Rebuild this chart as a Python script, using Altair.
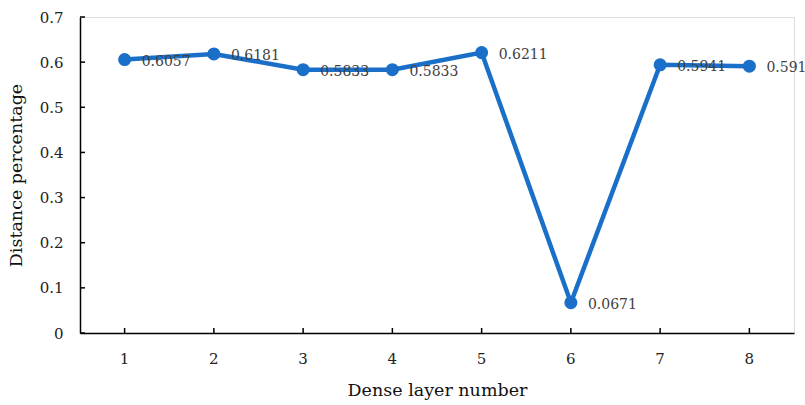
import altair as alt
import pandas as pd

layers = [1, 2, 3, 4, 5, 6, 7, 8]
values = [0.6057, 0.6181, 0.5833, 0.5833, 0.6211, 0.0671, 0.5941, 0.591]
labels = ["0.6057", "0.6181", "0.5833", "0.5833", "0.6211", "0.0671", "0.5941", "0.591"]
y_ticks = [0, 0.1, 0.2, 0.3, 0.4, 0.5, 0.6, 0.7]

df = pd.DataFrame({"layer": layers, "value": values, "label": labels})
ticks_df = pd.DataFrame({"v": y_ticks})

W, H = 714, 316
FONT = "DejaVu Serif"
BLUE = "#1a6fc8"

xscale = alt.Scale(domain=layers, paddingInner=0, paddingOuter=0)
yscale = alt.Scale(domain=[0, 0.7], nice=False, zero=True)

x_enc = alt.X("layer:O", scale=xscale,
              axis=alt.Axis(title="Dense layer number", labelAngle=0, ticks=False,
                            labelPadding=18, titlePadding=15,
                            domainColor="#000", domainWidth=1.5,
                            labelFont=FONT, labelFontSize=15, labelColor="#222",
                            titleFont=FONT, titleFontSize=17.5, titleFontWeight="normal",
                            titleColor="#111"))
y_enc = alt.Y("value:Q", scale=yscale,
              axis=alt.Axis(title="Distance percentage", values=y_ticks, ticks=False,
                            labelExpr="datum.value == 0 ? '0' : format(datum.value, '.1f')",
                            grid=False, labelPadding=17, titlePadding=14,
                            domainColor="#000", domainWidth=1.5,
                            labelFont=FONT, labelFontSize=15, labelColor="#222",
                            titleFont=FONT, titleFontSize=17.5, titleFontWeight="normal",
                            titleColor="#111"))

line = alt.Chart(df).mark_line(color=BLUE, strokeWidth=4.5).encode(x=x_enc, y=y_enc)
pts = alt.Chart(df).mark_point(filled=True, color=BLUE, size=170, opacity=1).encode(
    x="layer:O", y="value:Q")
txt = alt.Chart(df).mark_text(align="left", baseline="middle", dx=17, dy=2,
                              font=FONT, fontSize=14, color="#404040").encode(
    x="layer:O", y="value:Q", text="label:N")

ytick = alt.Chart(ticks_df).mark_rule(color="#000", strokeWidth=1.5).encode(
    y=alt.Y("v:Q"), x=alt.value(0), x2=alt.value(5))
xtick = alt.Chart(df).mark_rule(color="#000", strokeWidth=1.5).encode(
    x=alt.X("layer:O"), y=alt.value(H - 5), y2=alt.value(H))

chart = alt.layer(line, pts, txt, ytick, xtick).properties(
    width=W, height=H,
    autosize=alt.AutoSizeParams(type="none"),
    padding={"left": 80, "top": 17, "right": 11, "bottom": 72},
).configure_view(stroke="#000", strokeWidth=1.5).configure(background="white")

chart.save("out.html", embed_options={"renderer": "svg", "actions": False})
